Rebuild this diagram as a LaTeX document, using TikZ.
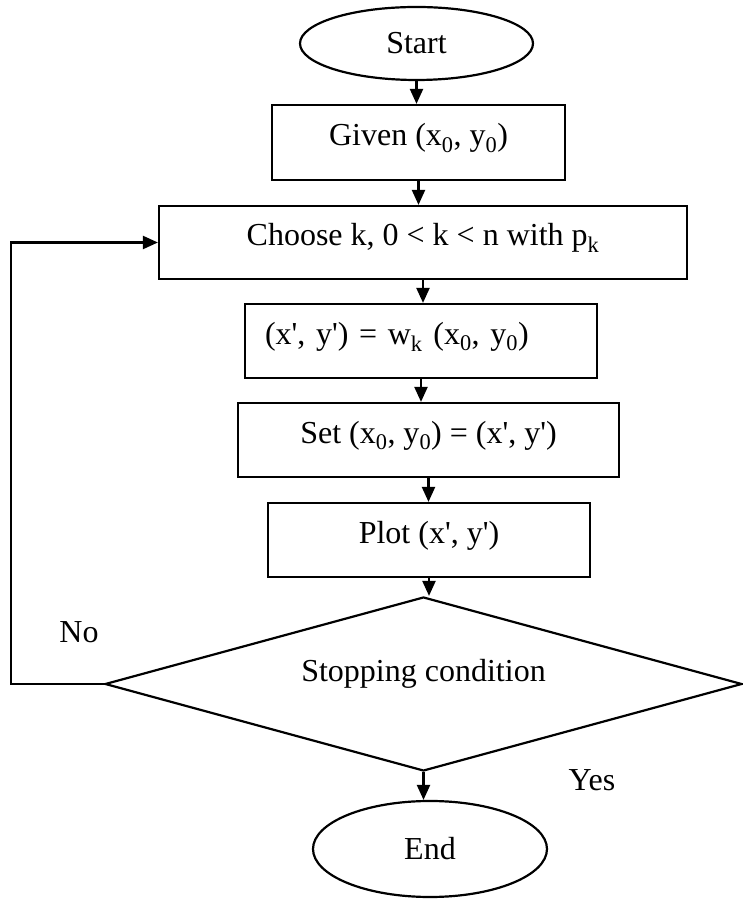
\documentclass[tikz,border=0pt]{standalone}
\usepackage{fontspec}
\setmainfont{Liberation Serif}
\usetikzlibrary{shapes.geometric, arrows.meta}
\newcommand{\sq}{\textquotesingle}

\begin{document}
\begin{tikzpicture}[x=1pt, y=1pt, line width=2.2pt,
  every node/.style={font=\fontsize{32}{38}\selectfont},
  flowbox/.style={draw, rectangle, inner sep=0pt, text height=24pt, text depth=17pt},
  terminal/.style={draw, ellipse, inner sep=0pt},
  decision/.style={draw, diamond, aspect=3.66, inner sep=0pt, text height=24pt, text depth=28pt},
  flowarrow/.style={-{Triangle[length=15pt, width=13pt]}}]
\useasboundingbox (0, 0) rectangle (743, 900);
\node [terminal, minimum width=233, minimum height=73] (start) at (416.5, 856.5) {Start};
\node [flowbox, minimum width=293, minimum height=75] (given) at (418.5, 757.5) {Given (x\textsubscript{0}, y\textsubscript{0})};
\node [flowbox, minimum width=528, minimum height=73] (choose) at (423, 657.5) {Choose k, 0 < k < n with p\textsubscript{k}};
\node [flowbox, minimum height=74, inner xsep=20pt, text width=312pt, align=left] (map) at (421, 559) {(x\sq, y\sq) = w\textsubscript{k} (x\textsubscript{0}, y\textsubscript{0})};
\node [flowbox, minimum width=381, minimum height=74] (set) at (428.5, 460) {Set (x\textsubscript{0}, y\textsubscript{0}) = (x\sq, y\sq)};
\node [flowbox, minimum width=322, minimum height=74] (plot) at (429, 360) {Plot (x\sq, y\sq)};
\node [decision, minimum width=637, minimum height=174] (stop) at (423.5, 216) {Stopping condition};
\node [terminal, minimum width=234, minimum height=96] (finish) at (430, 51) {End};
%Text
\node (no) at (79, 268) {No};
\node (yes) at (592, 120) {Yes};
\coordinate (loop) at (11, 0);
%Arrows
\draw [flowarrow] (start.south) -- (start.south |- given.north);
\draw [flowarrow] (given.south) -- (given.south |- choose.north);
\draw [flowarrow] (choose.south) -- (choose.south |- map.north);
\draw [flowarrow] (map.south) -- (map.south |- set.north);
\draw [flowarrow] (set.south) -- (set.south |- plot.north);
\draw [flowarrow] (plot.south) -- (plot.south |- stop.north);
\draw [flowarrow] (stop.south) -- (stop.south |- finish.north);
\draw [flowarrow] (stop.west) -- (stop.west -| loop) |- (choose.west);
\end{tikzpicture}
\end{document}
